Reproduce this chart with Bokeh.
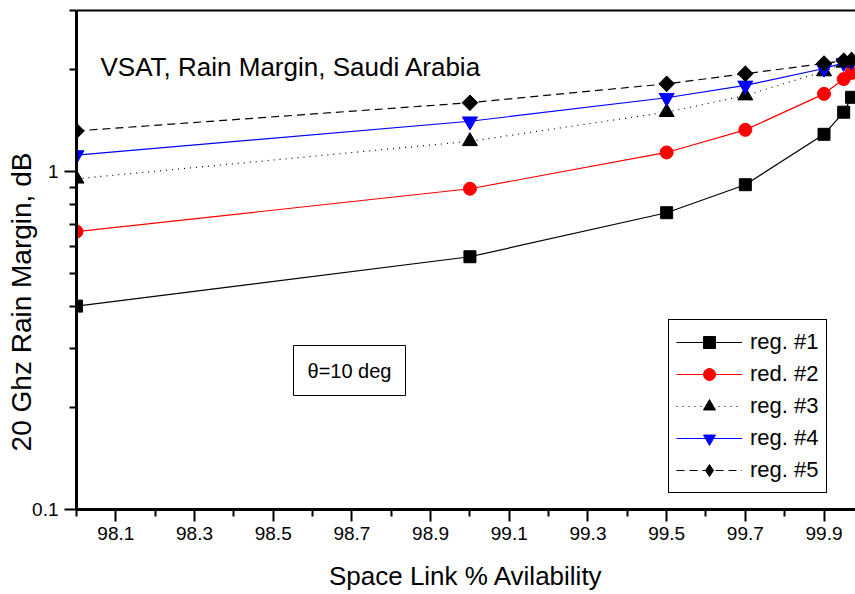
from bokeh.plotting import figure
from bokeh.models import (Range1d, FixedTicker, LinearAxis, Legend, LegendItem, Label,
                          CustomJSTickFormatter, PrintfTickFormatter)
from bokeh.embed import file_html
from bokeh.resources import INLINE
import math

# ---- data ----
availability = [98.0, 99.0, 99.5, 99.7, 99.9, 99.95, 99.97]
reg1 = [0.40, 0.56, 0.756, 0.915, 1.29, 1.50, 1.66]
reg2 = [0.665, 0.89, 1.14, 1.33, 1.70, 1.88, 1.96]
reg3 = [0.953, 1.23, 1.50, 1.68, 1.98, 2.10, 2.13]
reg4 = [1.12, 1.41, 1.655, 1.80, 2.02, 2.10, 2.12]
reg5 = [1.32, 1.60, 1.82, 1.95, 2.09, 2.13, 2.14]
series_names = ["reg. #1", "red. #2", "reg. #3", "reg. #4", "reg. #5"]

x_major = [98.1, 98.3, 98.5, 98.7, 98.9, 99.1, 99.3, 99.5, 99.7, 99.9]
x_minor = [98.0, 98.2, 98.4, 98.6, 98.8, 99.0, 99.2, 99.4, 99.6, 99.8]
y_major = [0.1, 1]
y_minor = [0.2, 0.3, 0.4, 0.5, 0.6, 0.7, 0.8, 0.9, 2, 3]

FONT = "Liberation Sans"

p = figure(width=855, height=594, x_range=Range1d(98.0, 99.98), y_range=Range1d(0.1, 3.0),
           y_axis_type="log", output_backend="svg", toolbar_location=None,
           min_border_left=76, min_border_right=0, min_border_top=10, min_border_bottom=85)
p.grid.visible = False
p.outline_line_color = None
p.background_fill_color = "white"
p.border_fill_color = "white"

# axes
for ax in (p.xaxis[0], p.yaxis[0]):
    ax.axis_line_width = 3
    ax.axis_line_color = "black"
    ax.major_tick_line_width = 2
    ax.minor_tick_line_width = 2
    ax.major_tick_in = 0
    ax.minor_tick_in = 0
    ax.major_tick_out = 12
    ax.minor_tick_out = 7
    ax.major_label_text_font = FONT
    ax.major_label_text_font_size = "19px"
    ax.major_label_text_color = "black"
    ax.axis_label_text_font = FONT
    ax.axis_label_text_font_style = "normal"
    ax.axis_label_text_color = "black"

p.xaxis.ticker = FixedTicker(ticks=x_major, minor_ticks=x_minor)
p.xaxis.formatter = PrintfTickFormatter(format="%.1f")
p.xaxis.axis_label = "Space Link % Avilability"
p.xaxis.axis_label_text_font_size = "26px"
p.xaxis.major_label_standoff = 5
p.xaxis.axis_label_standoff = 18

p.yaxis.ticker = FixedTicker(ticks=y_major, minor_ticks=y_minor)
p.yaxis.formatter = CustomJSTickFormatter(code="return tick >= 1 ? tick.toFixed(0) : tick.toFixed(1);")
# trailing em spaces push the visible label down along the axis, as in the reference
p.yaxis.axis_label = "20 Ghz Rain Margin, dB\u2003\u2003\u2003"
p.yaxis.axis_label_text_font_size = "28px"
p.yaxis.major_label_standoff = 6
p.yaxis.axis_label_standoff = -8

top = LinearAxis(ticker=FixedTicker(ticks=[]), axis_line_width=2, axis_line_color="black",
                 major_tick_out=0, major_tick_in=0, minor_tick_out=0, minor_tick_in=0,
                 major_label_text_font_size="0px", major_label_standoff=0)
p.add_layout(top, "above")

# series
l1 = p.line(availability, reg1, line_color="black", line_width=1.2)
s1 = p.scatter(availability, reg1, marker="square", size=12, color="black")
l2 = p.line(availability, reg2, line_color="red", line_width=1.2)
s2 = p.scatter(availability, reg2, marker="circle", size=13, color="red")
l3 = p.line(availability, reg3, line_color="black", line_width=1.2, line_dash="1 5")
s3 = p.scatter(availability, reg3, marker="triangle", size=15, color="black")
l4 = p.line(availability, reg4, line_color="blue", line_width=1.2)
s4 = p.scatter(availability, reg4, marker="inverted_triangle", size=15, color="blue")
l5 = p.line(availability, reg5, line_color="black", line_width=1.2, line_dash="8 5")
# narrow diamond (used for the legend symbol), covered by the wider rotated square
s5_leg = p.scatter(availability, reg5, marker="diamond", size=15, color="black")
s5 = p.scatter(availability, reg5, marker="square", size=11, angle=math.pi / 4, color="black")

pairs = [(l1, s1), (l2, s2), (l3, s3), (l4, s4), (l5, s5_leg)]
items = [LegendItem(label=n, renderers=list(r)) for n, r in zip(series_names, pairs)]
legend = Legend(items=items, location=(592, 16), glyph_width=66, glyph_height=30,
                label_height=30, spacing=2, padding=7, margin=0, label_standoff=8,
                border_line_color="black", border_line_width=1, border_line_alpha=1,
                background_fill_color="white", background_fill_alpha=1,
                label_text_font=FONT, label_text_font_size="22px", label_text_color="black")
p.add_layout(legend, "center")

title = Label(x=24, y=443, x_units="screen", y_units="screen", text="VSAT, Rain Margin, Saudi Arabia",
              text_font=FONT, text_font_size="26px", text_color="black", text_baseline="alphabetic")
p.add_layout(title)

note = Label(x=273, y=139, x_units="screen", y_units="screen", text="θ=10 deg",
             text_font=FONT, text_font_size="20px", text_color="black",
             text_align="center", text_baseline="middle",
             border_line_color="black", border_line_width=1, background_fill_color="white",
             padding=14)
p.add_layout(note)

open("out.html", "w").write(file_html(p, INLINE))
